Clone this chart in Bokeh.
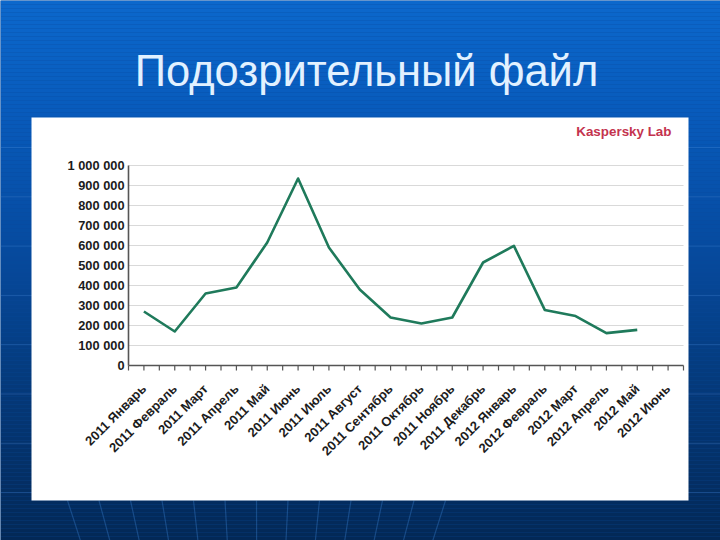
import numpy as np
from bokeh.plotting import figure
from bokeh.models import Range1d
from bokeh.embed import file_html
from bokeh.resources import INLINE
from bokeh.core.properties import value

# ---------------- data ----------------
months = ["2011 Январь", "2011 Февраль", "2011 Март", "2011 Апрель", "2011 Май",
          "2011 Июнь", "2011 Июль", "2011 Август", "2011 Сентябрь", "2011 Октябрь",
          "2011 Ноябрь", "2011 Декабрь", "2012 Январь", "2012 Февраль", "2012 Март",
          "2012 Апрель", "2012 Май", "2012 Июнь"]
files = [270000, 170000, 360000, 390000, 615000, 935000, 590000, 380000, 240000,
         210000, 240000, 515000, 598000, 278000, 247000, 162000, 178000, None]
y_ticks = [0, 100000, 200000, 300000, 400000, 500000, 600000, 700000, 800000,
           900000, 1000000]
y_tick_labels = ["0", "100 000", "200 000", "300 000", "400 000", "500 000",
                 "600 000", "700 000", "800 000", "900 000", "1 000 000"]
title = "Подозрительный файл"
source_label = "Kaspersky Lab"

# ---------------- layout ----------------
W, H = 720, 540
PL, PR, PT, PB = 128, 683, 165, 365          # plot area in page pixels
PANEL = (31, 688, 117, 500)                  # white panel l, r, t, b
YMAX = y_ticks[-1]
n = len(months)
ux = (PR - PL) / n                            # px per category
uy = (PB - PT) / YMAX                         # px per value unit

FONT = value("Liberation Sans")

p = figure(width=W, height=H, x_range=Range1d(0, W), y_range=Range1d(H, 0),
           x_axis_location=None, y_axis_location=None,
           toolbar_location=None, output_backend="svg", min_border=0)
p.grid.visible = False
p.outline_line_color = None
p.background_fill_color = "#0a4a9a"
p.border_fill_color = "#0a4a9a"

p.extra_x_ranges = {"d": Range1d(-PL / ux, n + (W - PR) / ux)}
p.extra_y_ranges = {"d": Range1d(-(H - PB) / uy, YMAX + PT / uy)}

# ---------------- slide background (gradient) ----------------
stops_pos = [0.0, 0.2, 0.45, 0.7, 1.0]
stops_rgb = [(12, 104, 204), (8, 91, 188), (6, 75, 160), (5, 58, 124), (3, 40, 86)]
band = 4
ys = np.arange(0, H, band)
cols = []
for yv in ys:
    t = (yv + band / 2) / H
    rgb = [int(round(np.interp(t, stops_pos, [c[k] for c in stops_rgb]))) for k in range(3)]
    cols.append("#%02x%02x%02x" % tuple(rgb))
p.quad(left=0, right=W, top=ys, bottom=ys + band, fill_color=cols, line_color=None)

# faint perspective grid
hl = np.arange(147, 500, 49.3)
p.segment(x0=0, x1=W, y0=hl, y1=hl, line_color="#4f8fdc", line_alpha=0.3, line_width=1)
vx, vy = 258, 1090
xt = np.linspace(67, 445, 13)
xb = vx + (xt - vx) * (vy - H) / (vy - 500)
p.segment(x0=xt, y0=500, x1=xb, y1=H, line_color="#3f86d8", line_alpha=0.35, line_width=1.2)

# white panel
p.quad(left=PANEL[0], right=PANEL[1], top=PANEL[2], bottom=PANEL[3],
       fill_color="white", line_color=None)

# title
p.text(x=[W / 2 + 6], y=[70], text=[title], text_align="center", text_baseline="middle",
       text_font=FONT, text_font_size="43.5px", text_color="#e2f1ff")

# source label
p.text(x=[671], y=[131], text=[source_label], text_align="right", text_baseline="middle",
       text_font=FONT, text_font_size="13.4px", text_font_style="bold", text_color="#c4334e")

# ---------------- chart ----------------
cx = np.arange(n) + 0.5

# gridlines
p.segment(x0=0, x1=n, y0=y_ticks[1:], y1=y_ticks[1:], x_range_name="d", y_range_name="d",
          line_color="#d9d9d9", line_width=1)

# axes
p.segment(x0=[0], x1=[0], y0=[0], y1=[YMAX], x_range_name="d", y_range_name="d",
          line_color="#555555", line_width=1.6)
p.segment(x0=[0], x1=[n], y0=[0], y1=[0], x_range_name="d", y_range_name="d",
          line_color="#555555", line_width=1.6)

# x ticks (category boundaries and centres)
tx = np.arange(0, 2 * n + 1) / 2
p.segment(x0=tx, x1=tx, y0=PB, y1=PB + 5, x_range_name="d",
          line_color="#555555", line_width=1.2)

# y tick labels
p.text(x=PL - 4, y=y_ticks, text=y_tick_labels, y_range_name="d",
       text_align="right", text_baseline="middle", text_font=FONT,
       text_font_size="12.8px", text_font_style="bold", text_color="#1c1c1c")

# x tick labels
p.text(x=cx, y=PB + 21, text=months, x_range_name="d", angle=np.pi / 4,
       text_align="right", text_baseline="middle", text_font=FONT,
       text_font_size="13px", text_font_style="bold", text_color="#1c1c1c")

# data line
yvals = np.array([np.nan if v is None else v for v in files], dtype=float)
p.line(x=cx, y=yvals, x_range_name="d", y_range_name="d",
       line_color="#1f7a5b", line_width=2.6, line_join="round")

open("out.html", "w").write(file_html(p, INLINE))
